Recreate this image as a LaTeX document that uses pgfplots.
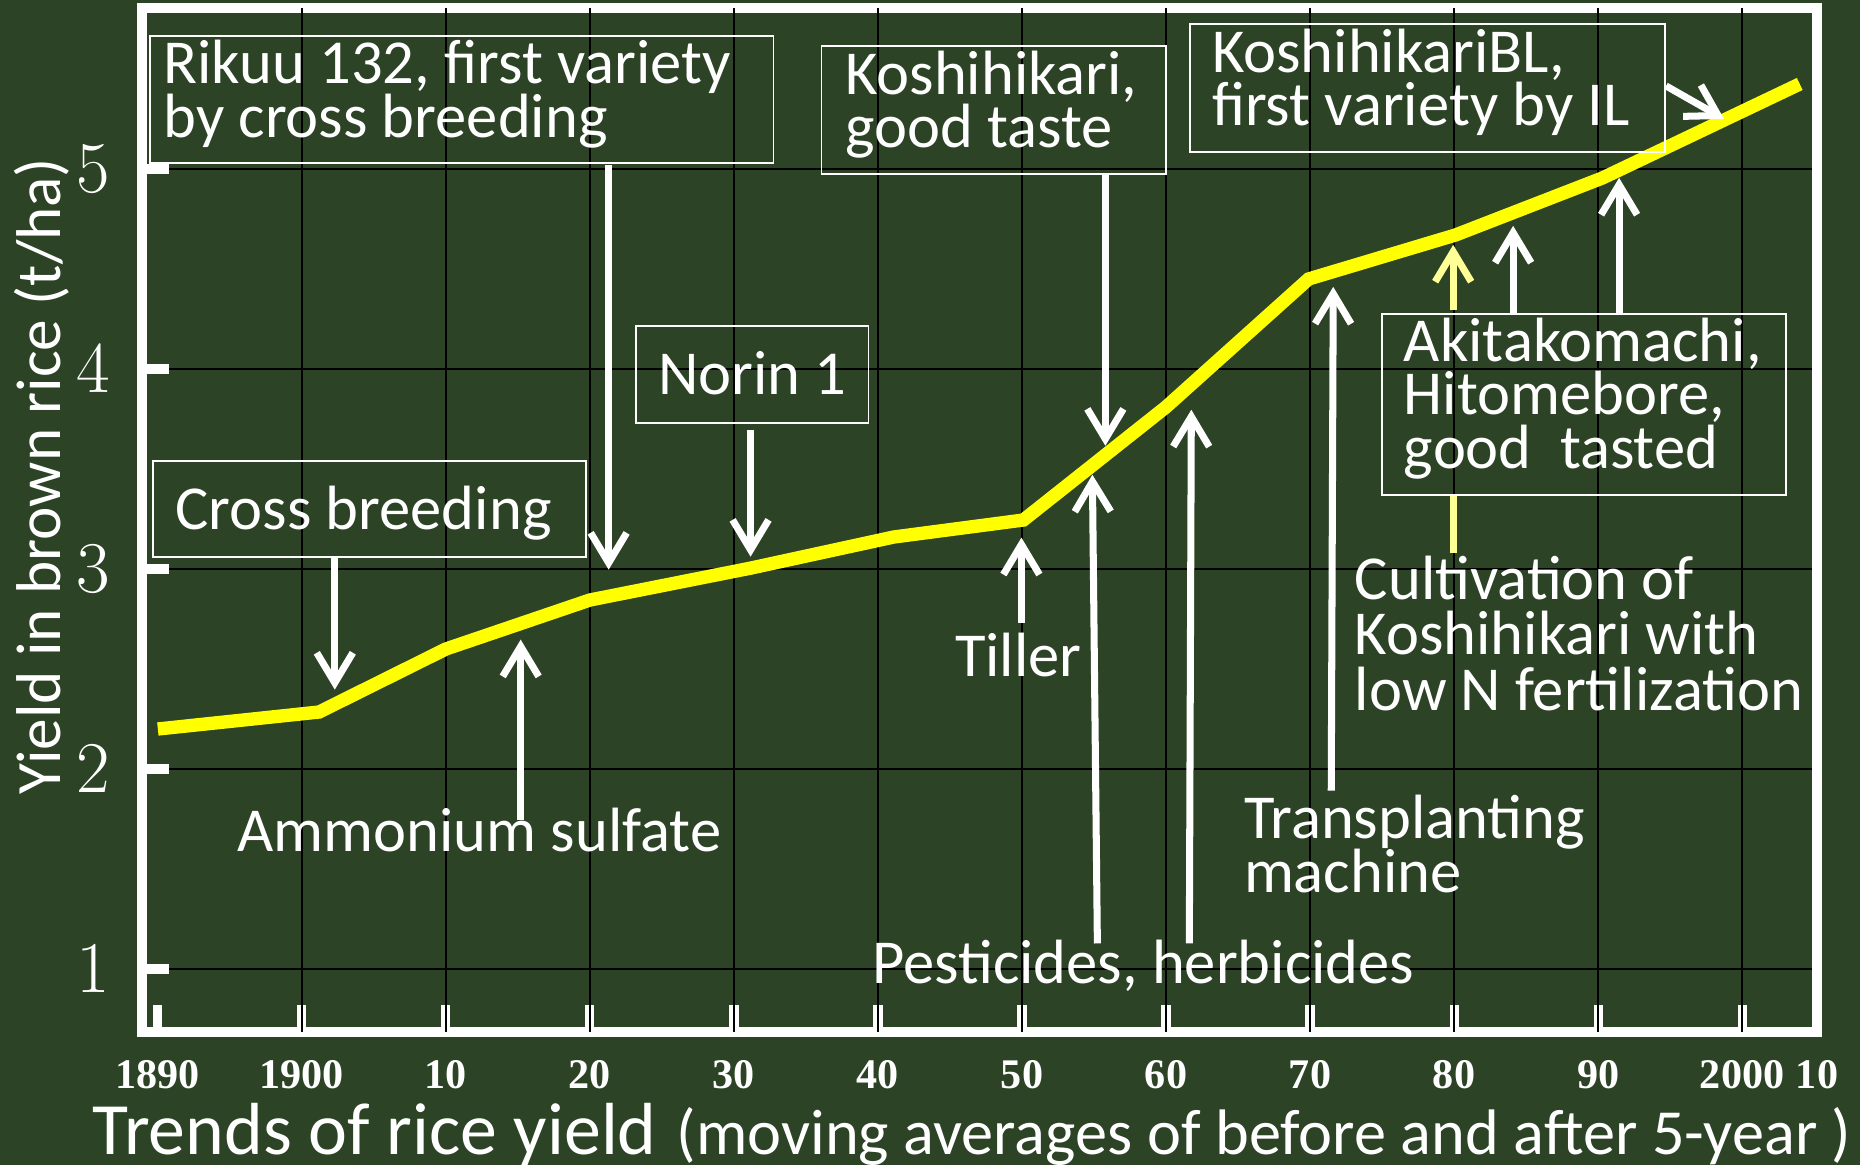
\documentclass[border=0pt]{standalone}
\usepackage{fontspec}
\setmainfont{Carlito}
\newfontfamily\tnr{Liberation Serif}
\usepackage{pgfplots}
\usepackage{pgfplotstable}
\pgfplotsset{compat=1.18}
\usetikzlibrary{arrows.meta}
\definecolor{bg}{RGB}{44,67,38}
\definecolor{lyel}{RGB}{255,255,150}

\pgfplotstableread{
year yield
1890 2.20
1901.2 2.285
1910 2.60
1920 2.845
1931.2 3.005
1941.1 3.16
1950.1 3.245
1960 3.81
1969.9 4.45
1980.1 4.67
1990.3 4.955
2004.0 5.425
}\yieldtable

\begin{document}
\begin{tikzpicture}
\path[use as bounding box, fill=bg] (0,0) rectangle (18.6cm,11.65cm);
\begin{axis}[
  at={(1.42cm,1.33cm)}, anchor=south west,
  scale only axis, width=16.75cm, height=10.24cm,
  xmin=1888.9, xmax=2005.2, ymin=0.685, ymax=5.805,
  axis line style={white, line width=2.6pt},
  xtick={1890,1900,...,2000,2005.2},
  xticklabels={1890,1900,10,20,30,40,50,60,70,80,90,2000,10},
  ytick={1,2,3,4,5},
  tick pos=left, tick align=inside,
  major tick length=0.27cm,
  tick style={white, line width=2.6pt},
  xticklabel style={font=\tnr\bfseries\fontsize{12}{14}\selectfont, text=white, yshift=-0.16cm},
  yticklabel style={font=\fontsize{20.5}{24}\selectfont, text=white, xshift=-0.2cm},
  ymajorgrids,
  major grid style={black, line width=0.6pt},
  extra x ticks={1900,1910,...,2000},
  extra x tick labels={},
  extra x tick style={grid=major, major tick length=0pt},
  xlabel={{\fontsize{21}{24}\selectfont Trends of rice yield}\hspace{0.12cm} {\fontsize{18.3}{20}\selectfont(moving averages of before and after 5-year )}},
  xlabel style={at={(axis description cs:-0.0299,-0.120)}, anchor=base west, text=white, inner sep=0pt},
  ylabel={Yield in brown rice (t/ha)},
  ylabel style={at={(axis description cs:-0.0597,0.543)}, anchor=center, font=\fontsize{18}{20}\selectfont, text=white},
]
\addplot[color={rgb,255:red,255;green,255;blue,0}, line width=3.8pt, line join=miter] table[x=year,y=yield]{\yieldtable};
\end{axis}

\begin{scope}[x=0.01cm, y=-0.01cm, yshift=11.65cm,
  every node/.style={text=white, inner sep=0pt, anchor=base west, font=\fontsize{17.8}{21}\selectfont},
  arr/.style={white, line width=2pt, -{Straight Barb[length=0.3cm, width=0.36cm]}}]
% Rikuu 132
\draw[white, line width=0.5pt] (150,36) rectangle (774,163);
\node at (163,84) {Rikuu 132, first variety};
\node at (163,138) {by cross breeding};
\draw[arr] (609,165) -- (609,570);
% Cross breeding
\draw[white, line width=0.5pt] (153,461) rectangle (586,557);
\node at (175,530) {Cross breeding};
\draw[arr] (335,557) -- (335,690);
% Ammonium sulfate
\node at (237,852) {Ammonium sulfate};
\draw[arr] (521,820) -- (521,640);
% Norin 1
\draw[white, line width=0.5pt] (636,326) rectangle (869,423);
\node at (658,395) {Norin 1};
\draw[arr] (751,430) -- (751,557);
% Koshihikari
\draw[white, line width=0.5pt] (822,46) rectangle (1167,174);
\node at (845,95) {Koshihikari,};
\node at (845,148) {good taste};
\draw[arr] (1106,174) -- (1106,446);
% Tiller
\node at (955,677) {Tiller};
\draw[arr] (1022,623) -- (1022,538);
% Pesticides
\node at (872,984) {Pesticides, herbicides};
\draw[arr] (1098,944) -- (1093,475);
\draw[arr] (1190,944) -- (1192,410);
% Transplanting
\node at (1244,839) {Transplanting};
\node at (1244,893) {machine};
\draw[arr] (1332,791) -- (1334,287);
% Cultivation
\node at (1355,600) {Cultivation of};
\node at (1355,655) {Koshihikari with};
\node at (1355,711) {low N fertilization};
\draw[lyel, line width=2pt] (1454,553) -- (1454,496);
\draw[lyel, line width=2pt, -{Straight Barb[length=0.3cm, width=0.36cm]}] (1454,310) -- (1454,245);
% Akitakomachi
\draw[white, line width=0.5pt] (1383,314) rectangle (1787,495);
\node at (1404,362) {Akitakomachi,};
\node at (1404,415) {Hitomebore,};
\node at (1404,469) {good\ \ tasted};
\draw[arr] (1514,314) -- (1514,226);
\draw[arr] (1620,314) -- (1620,178);
% KoshihikariBL
\draw[white, line width=0.5pt] (1191,24) rectangle (1666,152);
\node at (1212,73) {KoshihikariBL,};
\node at (1212,126) {first variety by IL};
\draw[arr] (1667,86) -- (1725,119);
\end{scope}
\end{tikzpicture}
\end{document}
